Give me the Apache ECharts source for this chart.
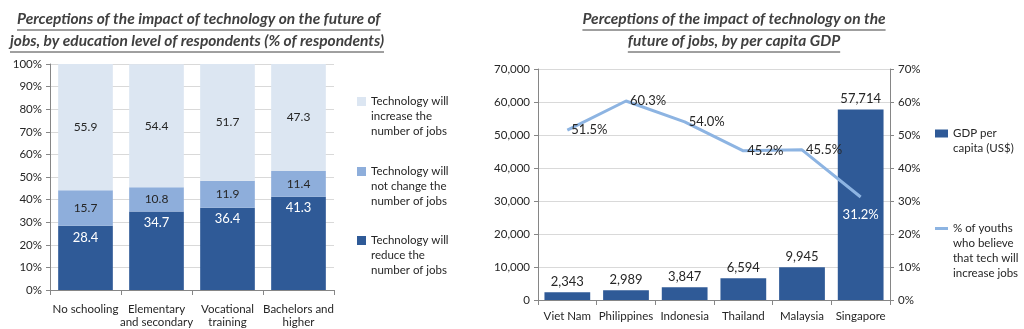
<!DOCTYPE html>
<html><head><meta charset="utf-8">
<script src="https://cdn.jsdelivr.net/npm/echarts@6/dist/echarts.min.js"></script>
<style>html,body{margin:0;padding:0;background:#fff}#c{width:1024px;height:329px}</style>
</head><body><div id="c"></div>
<script>
// ---- Data ----
const eduCategories = ['No schooling', 'Elementary\nand secondary', 'Vocational\ntraining', 'Bachelors and\nhigher'];
const reduceJobs = [28.4, 34.7, 36.4, 41.3];
const noChangeJobs = [15.7, 10.8, 11.9, 11.4];
const increaseJobs = [55.9, 54.4, 51.7, 47.3];
const pctTicks = ['0%','10%','20%','30%','40%','50%','60%','70%','80%','90%','100%'];

const countries = ['Viet Nam', 'Philippines', 'Indonesia', 'Thailand', 'Malaysia', 'Singapore'];
const gdpPerCapita = [2343, 2989, 3847, 6594, 9945, 57714];
const youthIncreasePct = [51.5, 60.3, 54.0, 45.2, 45.5, 31.2];

const title1Lines = ['Perceptions of the impact of technology on the future of', 'jobs, by education level of respondents (% of respondents)'];
const title2Lines = ['Perceptions of the impact of technology on the', 'future of jobs, by per capita GDP'];

const legendNames = {
  inc: 'Technology will\nincrease the\nnumber of jobs',
  nc: 'Technology will\nnot change the\nnumber of jobs',
  red: 'Technology will\nreduce the\nnumber of jobs',
  gdp: 'GDP per\ncapita (US$)',
  pct: '% of youths\nwho believe\nthat tech will\nincrease jobs'
};

// ---- Style ----
const FONT = 'Lato';
const DARK = '#2F5A97', MID = '#8EAEDB', LIGHT = '#DCE6F2', LINEC = '#8DB4E2';
const TXT = '#262626';
const AX = '#868686', GRID = '#D9D9D9';

const chart = echarts.init(document.getElementById('c'));

function measure(text, font) {
  const cv = document.createElement('canvas').getContext('2d');
  cv.font = font; return cv.measureText(text).width;
}
const TFONT = 'italic bold 15.5px ' + FONT;
function titleGraphics(lines, positions) {
  const g = [];
  lines.forEach((t, i) => {
    const p = positions[i];
    const w = measure(t, TFONT);
    const x = p.align === 'center' ? p.x - w / 2 : p.x;
    g.push({type: 'text', left: x, top: p.y - 10, style: {text: t, font: TFONT, fill: '#404040'}});
    g.push({type: 'line', shape: {x1: x, y1: p.y + 9, x2: x + w, y2: p.y + 9}, style: {stroke: '#404040', lineWidth: 1}});
  });
  return g;
}

const LH = 15;
function legendRich(lines) { // first line aligned on icon
  return {a: {fontFamily: FONT, fontSize: 11.5, color: TXT, lineHeight: LH, padding: [(lines - 1) * LH, 0, 0, 0]}};
}
function legendAt(name, iconY, x, lines, iw, ih) {
  const boxH = (2 * lines - 1) * LH;
  return {
    data: [name], orient: 'vertical', left: x, top: iconY - boxH / 2, padding: 0,
    itemWidth: iw, itemHeight: ih, itemGap: 0, selectedMode: false,
    icon: 'rect',
    formatter: n => '{a|' + n + '}',
    textStyle: {rich: legendRich(lines)}
  };
}

const axisLbl = {fontFamily: FONT, fontSize: 11.5, color: TXT};

const option = {
  animation: false,
  textStyle: {fontFamily: FONT},
  grid: [
    {left: 50, right: 690, top: 64, bottom: 35},
    {left: 538, right: 134, top: 69, bottom: 29}
  ],
  xAxis: [
    {type: 'category', gridIndex: 0, data: eduCategories,
     axisLine: {lineStyle: {color: AX}}, axisTick: {show: true, length: 5, lineStyle: {color: AX}},
     axisLabel: Object.assign({margin: 13, lineHeight: 13, interval: 0}, axisLbl)},
    {type: 'category', gridIndex: 1, data: countries,
     axisLine: {lineStyle: {color: AX}}, axisTick: {show: true, length: 5, lineStyle: {color: AX}},
     axisLabel: Object.assign({margin: 10, interval: 0}, axisLbl)}
  ],
  yAxis: [
    {type: 'value', gridIndex: 0, min: 0, max: 100, interval: 10,
     axisLine: {show: true, lineStyle: {color: AX}}, axisTick: {show: true, length: 4, lineStyle: {color: AX}},
     splitLine: {lineStyle: {color: GRID}},
     axisLabel: Object.assign({margin: 8, formatter: v => pctTicks[Math.round(v / 10)]}, axisLbl)},
    {type: 'value', gridIndex: 1, min: 0, max: 70000, interval: 10000,
     axisLine: {show: true, lineStyle: {color: AX}}, axisTick: {show: true, length: 4, lineStyle: {color: AX}},
     splitLine: {lineStyle: {color: GRID}},
     axisLabel: Object.assign({margin: 8, formatter: v => v.toLocaleString('en-US')}, axisLbl)},
    {type: 'value', gridIndex: 1, position: 'right', min: 0, max: 70, interval: 10,
     axisLine: {show: true, lineStyle: {color: AX}}, axisTick: {show: true, length: 4, lineStyle: {color: AX}},
     splitLine: {show: false},
     axisLabel: Object.assign({margin: 8, formatter: v => v + '%'}, axisLbl)}
  ],
  legend: [
    legendAt(legendNames.inc, 103, 357, 3, 9, 9),
    legendAt(legendNames.nc, 173, 357, 3, 9, 9),
    legendAt(legendNames.red, 242, 357, 3, 9, 9),
    legendAt(legendNames.gdp, 135, 935, 2, 13, 8),
    legendAt(legendNames.pct, 230, 935, 4, 13, 3)
  ],
  series: [
    {name: legendNames.red, type: 'bar', stack: 'edu', xAxisIndex: 0, yAxisIndex: 0, barWidth: '77%',
     data: reduceJobs, itemStyle: {color: DARK},
     label: {show: true, position: 'insideTop', distance: 5, color: '#FFFFFF', fontFamily: FONT, fontSize: 13, formatter: p => p.value.toFixed(1)}},
    {name: legendNames.nc, type: 'bar', stack: 'edu', xAxisIndex: 0, yAxisIndex: 0, barWidth: '77%',
     data: noChangeJobs, itemStyle: {color: MID},
     label: {show: true, position: 'inside', color: TXT, fontFamily: FONT, fontSize: 12, formatter: p => p.value.toFixed(1)}},
    {name: legendNames.inc, type: 'bar', stack: 'edu', xAxisIndex: 0, yAxisIndex: 0, barWidth: '77%',
     data: increaseJobs, itemStyle: {color: LIGHT},
     label: {show: true, position: 'inside', color: TXT, fontFamily: FONT, fontSize: 12, formatter: p => p.value.toFixed(1)}},
    {name: legendNames.gdp, type: 'bar', xAxisIndex: 1, yAxisIndex: 1, barWidth: '78%',
     data: gdpPerCapita, itemStyle: {color: DARK},
     label: {show: true, position: 'top', distance: 4, color: TXT, fontFamily: FONT, fontSize: 13, formatter: p => p.value.toLocaleString('en-US')}},
    {name: legendNames.pct, type: 'line', xAxisIndex: 1, yAxisIndex: 2, symbol: 'circle', symbolSize: 0, showSymbol: true,
     lineStyle: {color: LINEC, width: 3}, itemStyle: {color: LINEC},
     labelLayout: {hideOverlap: false},
     data: youthIncreasePct.map((v, i) => i === youthIncreasePct.length - 1
        ? {value: v, label: {position: 'bottom', distance: 11, color: '#FFFFFF'}}
        : {value: v}),
     label: {show: true, position: 'right', distance: 4, color: TXT, fontFamily: FONT, fontSize: 13, formatter: p => p.value.toFixed(1) + '%'}}
  ],
  graphic: titleGraphics(title1Lines, [{x: 17, y: 21, align: 'left'}, {x: 10, y: 43, align: 'left'}])
    .concat(titleGraphics(title2Lines, [{x: 734, y: 21, align: 'center'}, {x: 734, y: 43, align: 'center'}]))
};
chart.setOption(option);
</script></body></html>
